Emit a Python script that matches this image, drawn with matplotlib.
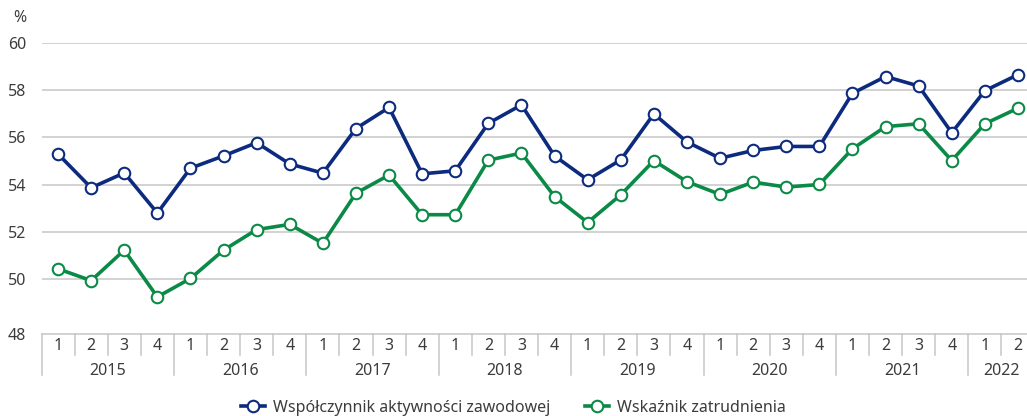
import matplotlib
matplotlib.use("Agg")
import matplotlib.pyplot as plt
import matplotlib.transforms as mtransforms
import numpy as np

plt.rcParams['font.family'] = ['Noto Sans', 'DejaVu Sans']

# data
years = [2015, 2016, 2017, 2018, 2019, 2020, 2021, 2022]
quarters_per_year = [4, 4, 4, 4, 4, 4, 4, 2]
aktywnosc = [55.3, 53.87, 54.5, 52.8, 54.7, 55.22, 55.78, 54.88,
             54.49, 56.38, 57.27, 54.46, 54.59, 56.6, 57.38, 55.22,
             54.21, 55.05, 57.0, 55.81, 55.12, 55.45, 55.62, 55.62,
             57.87, 58.58, 58.18, 56.2, 57.98, 58.66]
zatrudnienie = [50.44, 49.94, 51.23, 49.25, 50.03, 51.23, 52.1, 52.32,
                51.52, 53.64, 54.41, 52.73, 52.73, 55.04, 55.34, 53.5,
                52.4, 53.57, 55.02, 54.13, 53.59, 54.11, 53.9, 54.01,
                55.52, 56.46, 56.58, 55.02, 56.58, 57.24]
y_ticks = [50, 52, 54, 56, 58, 60]

blue = '#0d2b7e'
green = '#0b8a47'
grid_col = '#c6c6c6'
txt_col = '#3c3c3c'
fs = 11.5

W, H = 1027, 416
fig = plt.figure(figsize=(W / 100, H / 100), dpi=100)
fig.patch.set_facecolor('white')

# axes placed in pixel units (right edge runs past the figure like the original)
left_px, right_px, top_px, bot_px = 41.5, 1034.5, 43, 334
ax = fig.add_axes([left_px / W, 1 - bot_px / H,
                   (right_px - left_px) / W, (bot_px - top_px) / H])
ax.set_facecolor('none')

x = np.arange(len(aktywnosc))
ymin = 47.68
ax.set_xlim(-0.5, len(x) - 0.5)
ax.set_ylim(ymin, 60)

for v in y_ticks:
    ax.axhline(v, color=grid_col, lw=1.1, zorder=0)

ax.plot(x, aktywnosc, color=blue, lw=2.6, marker='o', ms=8.3,
        mfc='white', mec=blue, mew=1.5, clip_on=False, zorder=3,
        label='Współczynnik aktywności zawodowej')
ax.plot(x, zatrudnienie, color=green, lw=2.6, marker='o', ms=8.3,
        mfc='white', mec=green, mew=1.5, clip_on=False, zorder=3,
        label='Wskaźnik zatrudnienia')

for s in ax.spines.values():
    s.set_visible(False)
ax.set_xticks([])
ax.set_yticks([ymin] + y_ticks)
ax.set_yticklabels(['48'] + [str(v) for v in y_ticks])
ax.tick_params(axis='y', length=0, pad=11, labelsize=fs, labelcolor=txt_col)
fig.text(20 / W, 1 - 18 / H, '%', ha='center', va='center',
         fontsize=fs, color=txt_col)

# category axis drawn by hand: quarters on top row, years below
trans = mtransforms.blended_transform_factory(ax.transData, ax.transAxes)
ax_h = bot_px - top_px
q_tick = -21 / ax_h
y_tick = -41 / ax_h
ax.plot([-0.5, len(x) - 0.5], [0, 0], transform=trans, color=grid_col,
        lw=1.1, clip_on=False)

year_starts = np.cumsum([0] + quarters_per_year[:-1])
for i in range(len(x) + 1):
    depth = y_tick if i in year_starts or i == len(x) else q_tick
    ax.plot([i - 0.5, i - 0.5], [0, depth], transform=trans,
            color=grid_col, lw=1.1, clip_on=False)

q = 0
for yr, n in zip(years, quarters_per_year):
    for k in range(n):
        ax.text(q + k, -12 / ax_h, str(k + 1), transform=trans, ha='center',
                va='center', fontsize=fs, color=txt_col)
    ax.text(q + (n - 1) / 2, -37 / ax_h, str(yr), transform=trans,
            ha='center', va='center', fontsize=fs, color=txt_col)
    q += n

fig.legend(loc='center', bbox_to_anchor=(0.5, 1 - 408 / H), ncol=2,
           frameon=False, fontsize=fs, labelcolor=txt_col,
           handlelength=1.5, columnspacing=2.2, handletextpad=0.5)

fig.savefig('out.png', dpi=100)
